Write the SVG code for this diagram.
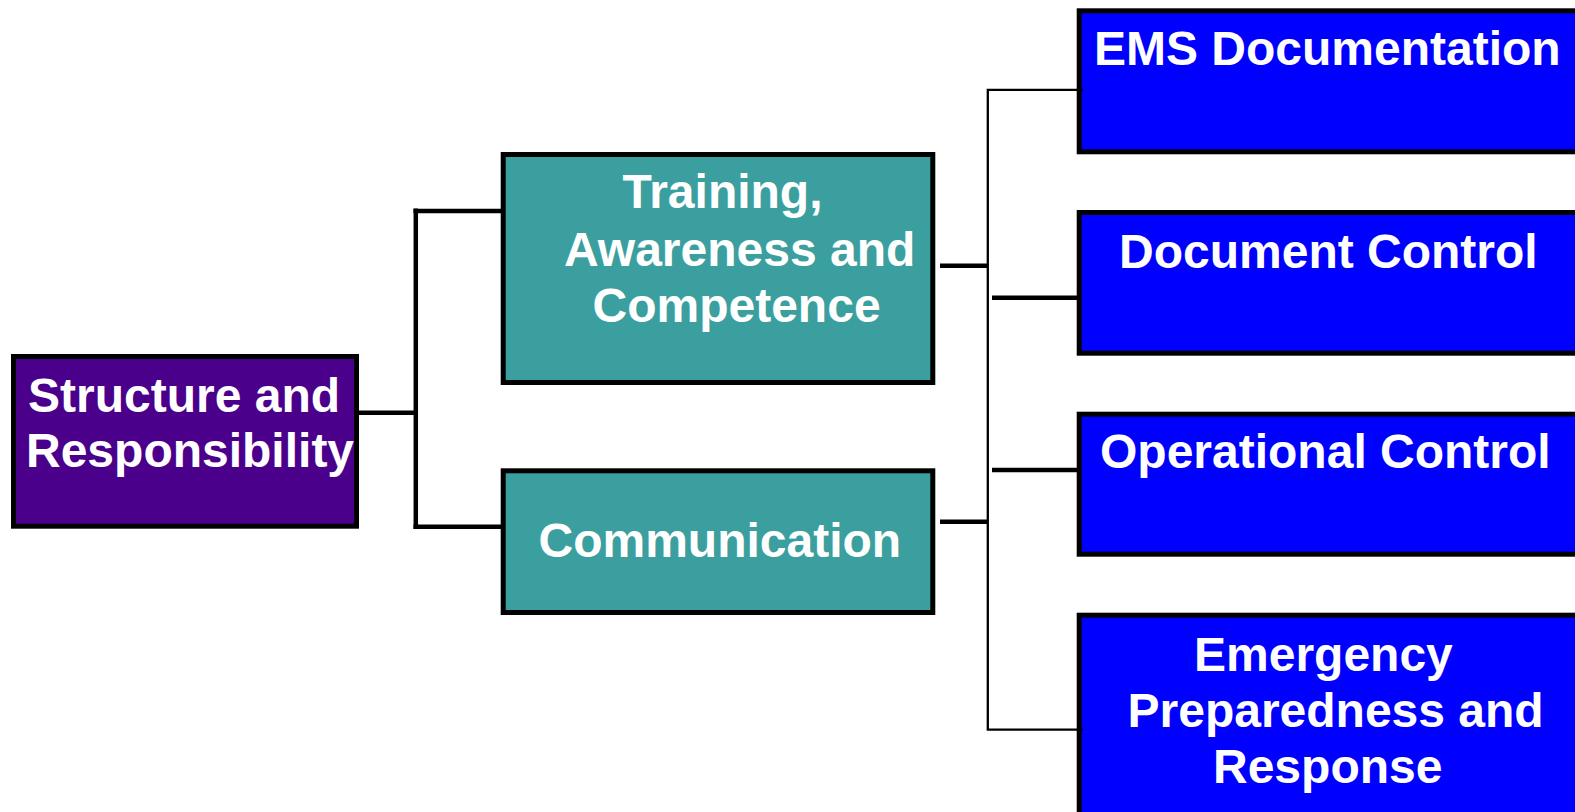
<svg xmlns="http://www.w3.org/2000/svg" width="1575" height="812" viewBox="0 0 1575 812">
<style>
.box{stroke:#000;stroke-width:5}
.purple{fill:#4B008C}
.teal{fill:#3B9FA0}
.blue{fill:#0000FF}
.lbl{font-family:"Liberation Sans",Arial,sans-serif;font-weight:bold;font-size:48px;fill:#fff}
.thick{stroke:#000;stroke-width:4.5;fill:none}
.thin{stroke:#000;stroke-width:2.3;fill:none}
</style>
<rect width="1575" height="812" fill="#fff"/>
<g id="node-structure">
<rect class="box purple" x="13.5" y="356.5" width="343" height="169.7"/>
<text class="lbl" x="28" y="411.7">Structure and</text>
<text class="lbl" x="26" y="466.7">Responsibility</text>
</g>
<g id="node-training">
<rect class="box teal" x="503.2" y="154.5" width="429.6" height="228"/>
<text class="lbl" x="622.5" y="208.3">Training,</text>
<text class="lbl" x="564" y="266">Awareness and</text>
<text class="lbl" x="592.5" y="321.7">Competence</text>
</g>
<g id="node-communication">
<rect class="box teal" x="503.2" y="470.8" width="429.6" height="141.7"/>
<text class="lbl" x="538.5" y="556.7">Communication</text>
</g>
<g id="node-ems">
<rect class="box blue" x="1079.2" y="10.8" width="600" height="141"/>
<text class="lbl" x="1094" y="65">EMS Documentation</text>
</g>
<g id="node-document">
<rect class="box blue" x="1079.2" y="212.5" width="600" height="140.7"/>
<text class="lbl" x="1119" y="267.7">Document Control</text>
</g>
<g id="node-operational">
<rect class="box blue" x="1079.2" y="414.2" width="600" height="140"/>
<text class="lbl" x="1100" y="468.3">Operational Control</text>
</g>
<g id="node-emergency">
<rect class="box blue" x="1079.2" y="615.2" width="600" height="300"/>
<text class="lbl" x="1194" y="671">Emergency</text>
<text class="lbl" x="1127.5" y="726.7">Preparedness and</text>
<text class="lbl" x="1213" y="783.3">Response</text>
</g>
<g id="connectors">
<path class="thick" d="M359 412.7H415.8"/>
<path class="thick" d="M415.8 208.5V529"/>
<path class="thick" d="M413.5 211H501"/>
<path class="thick" d="M413.5 526.7H501"/>
<path class="thin" d="M1083 89.8H987.8V729.7H1083"/>
<path class="thick" d="M940 265.7H988"/>
<path class="thick" d="M940 521.7H988"/>
<path class="thick" d="M992 297.7H1077"/>
<path class="thick" d="M992 470H1077"/>
</g>
</svg>
